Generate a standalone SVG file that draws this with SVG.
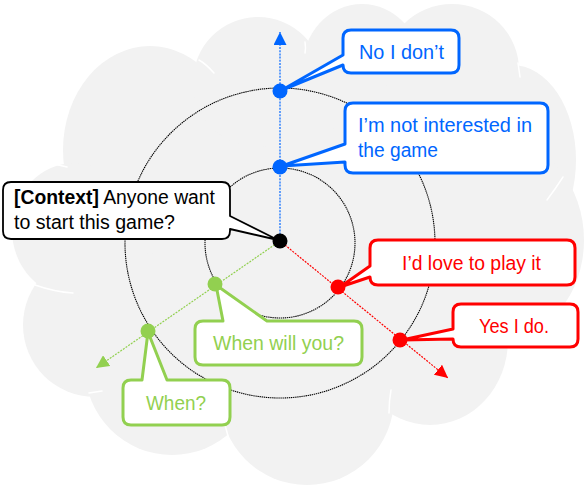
<svg xmlns="http://www.w3.org/2000/svg" width="584" height="486" viewBox="0 0 584 486">
<style>
.cloud{fill:#f2f2f2}
.seam{fill:none;stroke:#fff;stroke-width:1.5;stroke-linecap:round}
.ring{fill:none;stroke:#000;stroke-width:1.1;stroke-dasharray:1.4 0.7}
.ax{fill:none;stroke-width:1.2;stroke-dasharray:2 1.2}
.box{fill:#fff;stroke-width:3;stroke-linejoin:round}
.blue{stroke:#0066ff}
.red{stroke:#ff0000}
.green{stroke:#92d050}
text{font-family:"Liberation Sans",Arial,sans-serif;font-size:20px}
.tb{fill:#0066ff}
.tr{fill:#ff0000}
.tg{fill:#92d050}
</style>
<defs>
<marker id="arB" markerWidth="13" markerHeight="13" refX="13" refY="6.5" orient="auto" markerUnits="userSpaceOnUse"><path d="M0,0 L13,6.5 L0,13 Z" fill="#0066ff" stroke="none"/></marker>
<marker id="arR" markerWidth="13" markerHeight="13" refX="13" refY="6.5" orient="auto" markerUnits="userSpaceOnUse"><path d="M0,0 L13,6.5 L0,13 Z" fill="#ff0000" stroke="none"/></marker>
<marker id="arG" markerWidth="13" markerHeight="13" refX="13" refY="6.5" orient="auto" markerUnits="userSpaceOnUse"><path d="M0,0 L13,6.5 L0,13 Z" fill="#92d050" stroke="none"/></marker>
</defs>

<g id="cloud">
<ellipse class="cloud" cx="300" cy="240" rx="220" ry="180"/>
<ellipse class="cloud" cx="150" cy="150" rx="87" ry="104"/>
<circle class="cloud" cx="258" cy="82" r="65"/>
<ellipse class="cloud" cx="362" cy="70" rx="60" ry="66"/>
<ellipse class="cloud" cx="452" cy="70" rx="67" ry="66"/>
<ellipse class="cloud" cx="512" cy="160" rx="64" ry="95"/>
<ellipse class="cloud" cx="500" cy="240" rx="84" ry="100"/>
<ellipse class="cloud" cx="430" cy="340" rx="78" ry="85"/>
<circle class="cloud" cx="307" cy="398" r="87"/>
<circle class="cloud" cx="172" cy="368" r="87"/>
<circle class="cloud" cx="95" cy="325" r="72"/>
<ellipse class="cloud" cx="75" cy="230" rx="63" ry="67"/>
<path class="seam" d="M199,60 Q206,64 214,73"/>
<path class="seam" d="M305,42 Q306,48 305,53"/>
<path class="seam" d="M518,63 L520,77"/>
<path class="seam" d="M563,177 Q556,188 547,200"/>
<path class="seam" d="M391,390 Q389,401 389,413"/>
<path class="seam" d="M225,425 Q227,432 229,440"/>
<path class="seam" d="M89,393 L102,391"/>
<path class="seam" d="M35,285 Q55,292 73,293"/>
<path class="seam" d="M37,163 Q52,163 67,167"/>
</g>

<g id="rings">
<circle class="ring" cx="280" cy="243" r="75"/>
<circle class="ring" cx="280" cy="243" r="155"/>
</g>

<g id="connectors">
<line class="ax blue" x1="280" y1="241" x2="280" y2="32" marker-end="url(#arB)"/>
<line class="ax red" x1="280" y1="241" x2="448" y2="378" marker-end="url(#arR)"/>
<line class="ax green" x1="280" y1="241" x2="96" y2="368" marker-end="url(#arG)"/>
</g>

<g id="context">
<path class="box" stroke="#000" style="stroke-width:1.8" d="M11,182 H222 Q230,182 230,190 V216 L278,240 L230,229 V231 Q230,239 222,239 H11 Q3,239 3,231 V190 Q3,182 11,182 Z"/>
<text x="14" y="204" textLength="201" lengthAdjust="spacingAndGlyphs"><tspan font-weight="bold">[Context]</tspan> Anyone want</text>
<text x="14" y="229" textLength="161" lengthAdjust="spacingAndGlyphs">to start this game?</text>
<circle cx="280" cy="241" r="7.5" fill="#000"/>
</g>

<g id="no-i-dont">
<path class="box blue" d="M351,30 H451 Q459,30 459,38 V65 Q459,73 451,73 H351 Q343,73 343,65 L282,90 L343,55 V38 Q343,30 351,30 Z"/>
<text class="tb" x="359" y="59" textLength="85" lengthAdjust="spacingAndGlyphs">No I don’t</text>
<circle cx="280" cy="91" r="7.5" fill="#0066ff"/>
</g>

<g id="not-interested">
<path class="box blue" d="M353,103 H540 Q548,103 548,111 V165 Q548,173 540,173 H353 Q345,173 345,165 V162 L282,166 L345,144 V111 Q345,103 353,103 Z"/>
<text class="tb" x="358" y="132" textLength="174" lengthAdjust="spacingAndGlyphs">I’m not interested in</text>
<text class="tb" x="358" y="157" textLength="80" lengthAdjust="spacingAndGlyphs">the game</text>
<circle cx="280" cy="167" r="7.5" fill="#0066ff"/>
</g>

<g id="love-to-play">
<path class="box red" d="M378,240 H567 Q575,240 575,248 V277 Q575,285 567,285 H378 Q370,285 370,277 L340,287 L370,266 V248 Q370,240 378,240 Z"/>
<text class="tr" x="402" y="270" textLength="139" lengthAdjust="spacingAndGlyphs">I’d love to play it</text>
<circle cx="338" cy="287" r="7.5" fill="#ff0000"/>
</g>

<g id="yes-i-do">
<path class="box red" d="M461,304 H570 Q578,304 578,312 V339 Q578,347 570,347 H461 Q453,347 453,339 L402,340 L453,329 V312 Q453,304 461,304 Z"/>
<text class="tr" x="479" y="333" textLength="70" lengthAdjust="spacingAndGlyphs">Yes I do.</text>
<circle cx="400" cy="340" r="7.5" fill="#ff0000"/>
</g>

<g id="when-will-you">
<path class="box green" d="M203,321 H223 L216,285 L267,321 H354 Q362,321 362,329 V357 Q362,365 354,365 H203 Q195,365 195,357 V329 Q195,321 203,321 Z"/>
<text class="tg" x="213" y="350" textLength="131" lengthAdjust="spacingAndGlyphs">When will you?</text>
<circle cx="215" cy="284" r="7.5" fill="#92d050"/>
</g>

<g id="when">
<path class="box green" d="M131,380 H142 L148,332 L167,380 H222 Q230,380 230,388 V417 Q230,425 222,425 H131 Q123,425 123,417 V388 Q123,380 131,380 Z"/>
<text class="tg" x="146" y="410" textLength="60" lengthAdjust="spacingAndGlyphs">When?</text>
<circle cx="148" cy="331" r="7.5" fill="#92d050"/>
</g>
</svg>
